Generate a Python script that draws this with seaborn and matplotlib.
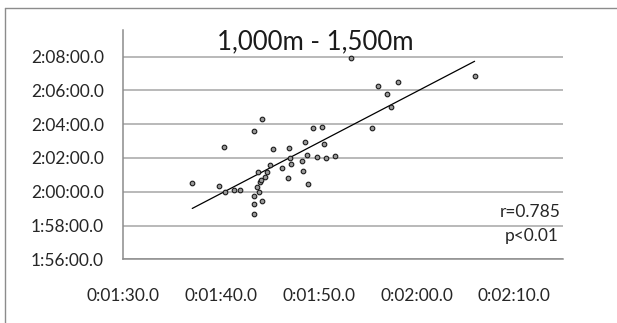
import matplotlib
matplotlib.use("Agg")
import matplotlib.pyplot as plt
from matplotlib.lines import Line2D
from matplotlib.ticker import FuncFormatter, MultipleLocator
import seaborn as sns
import pandas as pd

# x: time in seconds (0:01:30.0 = 90 s); y: time in minutes (2:00:00.0 = 120 min)
x_sec = [97.10, 99.86, 100.41, 100.37, 101.39, 102.00, 103.40, 104.24, 103.37, 103.37,
         103.43, 103.67, 103.88, 104.18, 103.98, 104.11, 103.81, 104.49, 104.76, 105.06,
         105.37, 106.26, 106.90, 107.00, 107.10, 107.20, 108.27, 108.43, 108.60, 108.78,
         108.94, 109.42, 109.83, 110.37, 110.57, 110.74, 111.69, 113.30, 116.05, 116.97,
         118.12, 117.41, 115.41, 125.94]
y_min = [120.50, 120.36, 120.00, 122.67, 120.09, 120.12, 123.60, 124.31, 119.77, 119.28,
         118.68, 120.28, 119.99, 119.44, 120.56, 120.70, 121.15, 120.86, 121.15, 121.57,
         122.52, 121.39, 120.82, 122.59, 122.00, 121.65, 121.82, 121.23, 122.97, 122.20,
         120.46, 123.76, 122.04, 123.84, 122.83, 122.00, 122.10, 127.94, 126.28, 125.79,
         126.50, 125.04, 123.78, 126.84]
title_text = "1,000m - 1,500m"
r_text = "r=0.785"
p_text = "p<0.01"

df = pd.DataFrame({"x": x_sec, "y": y_min})

sns.set_style("white")
plt.rcParams["font.family"] = ["Lato", "DejaVu Sans"]

fig = plt.figure(figsize=(6.17, 3.23), dpi=100)
ax = fig.add_axes([0.1989, 0.1972, 0.7141, 0.7099])

grid_c = "#a6a6a6"
axis_c = "#8c8c8c"
for v in range(116, 129, 2):
    ax.axhline(v, color=grid_c, lw=1.1, zorder=0)

sns.regplot(data=df, x="x", y="y", ax=ax, scatter=False, ci=None, truncate=True,
            line_kws=dict(color="black", lw=0.9, zorder=2))
sns.scatterplot(data=df, x="x", y="y", ax=ax, s=11, color="#9a9a9a",
                edgecolor="#1a1a1a", linewidth=0.8, zorder=3)

ax.set_xlim(90, 135)
ax.set_ylim(116, 129.58)
ax.xaxis.set_major_locator(MultipleLocator(10))
ax.yaxis.set_major_locator(MultipleLocator(2))


def fmt_x(v, pos):
    m = int(v // 60)
    s = v - 60 * m
    return f"0:{m:02d}:{s:04.1f}"


def fmt_y(v, pos):
    h = int(v // 60)
    m = int(round(v - 60 * h))
    return f"{h}:{m:02d}:00.0"


ax.xaxis.set_major_formatter(FuncFormatter(fmt_x))
ax.yaxis.set_major_formatter(FuncFormatter(fmt_y))
ax.set_xlabel("")
ax.set_ylabel("")

for side in ["top", "right"]:
    ax.spines[side].set_visible(False)
for side in ["left", "bottom"]:
    ax.spines[side].set_color(axis_c)
    ax.spines[side].set_linewidth(1.1)

ax.tick_params(axis="both", direction="out", length=3.6, width=1.0, color=axis_c,
               labelsize=12.5, labelcolor="#262626", pad=10)
ax.tick_params(axis="x", pad=17)

fig.text(315 / 617, 1 - 49.3 / 323, title_text, ha="center", va="baseline",
         fontsize=18.5, color="#1a1a1a")
fig.text(561 / 617, 1 - 217 / 323, r_text, ha="right", va="baseline",
         fontsize=12.5, color="#262626")
fig.text(559 / 617, 1 - 241.5 / 323, p_text, ha="right", va="baseline",
         fontsize=12.5, color="#262626")

# chart-area border (top and left edges visible in the reference crop)
fig.add_artist(Line2D([5 / 617, 5 / 617], [0, 1 - 8 / 323], transform=fig.transFigure,
                      color=axis_c, lw=1.0))
fig.add_artist(Line2D([5 / 617, 1], [1 - 8 / 323, 1 - 8 / 323], transform=fig.transFigure,
                      color=axis_c, lw=1.0))

fig.savefig("out.png", dpi=100)
